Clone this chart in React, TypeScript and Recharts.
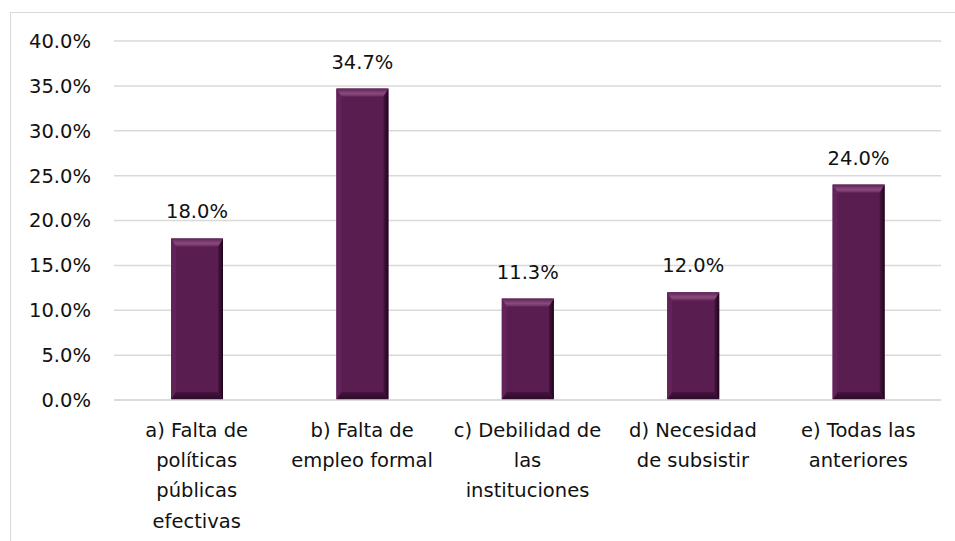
import React from "react";
import { BarChart, Bar, XAxis, YAxis, CartesianGrid, LabelList } from "recharts";

const categories = [
  "a) Falta de políticas públicas efectivas",
  "b) Falta de empleo formal",
  "c) Debilidad de las instituciones",
  "d) Necesidad de subsistir",
  "e) Todas las anteriores",
];
const tickLines = [
  ["a) Falta de", "políticas", "públicas", "efectivas"],
  ["b) Falta de", "empleo formal"],
  ["c) Debilidad de", "las", "instituciones"],
  ["d) Necesidad", "de subsistir"],
  ["e) Todas las", "anteriores"],
];
const values = [18.0, 34.7, 11.3, 12.0, 24.0];
const yTicks = [0, 5, 10, 15, 20, 25, 30, 35, 40];

const data = categories.map((c, i) => ({ name: c, idx: i, value: values[i] }));

const FONT = "'DejaVu Sans', sans-serif";
const FS = 19.5;

const BevelBar = (props: any) => {
  const { x, y, width, height } = props;
  if (!height || height <= 0) return null;
  const b = Math.min(8, height / 3);
  const s = 5;
  return (
    <g>
      <rect x={x} y={y} width={width} height={height} fill="#5a1d50" />
      <polygon
        points={`${x},${y} ${x + s},${y + b} ${x + s},${y + height - b} ${x},${y + height}`}
        fill="#62235a"
      />
      <polygon
        points={`${x + width},${y} ${x + width - s},${y + b} ${x + width - s},${y + height - b} ${x + width},${y + height}`}
        fill="url(#rightBevel)"
      />
      <polygon
        points={`${x},${y} ${x + width},${y} ${x + width - s},${y + b} ${x + s},${y + b}`}
        fill="url(#topBevel)"
      />
      <polygon
        points={`${x},${y + height} ${x + width},${y + height} ${x + width - s},${y + height - b} ${x + s},${y + height - b}`}
        fill="url(#bottomBevel)"
      />
    </g>
  );
};

const XTick = (props: any) => {
  const { x, y, payload } = props;
  const lines = tickLines[payload.index] || [String(payload.value)];
  return (
    <text x={x} y={y} textAnchor="middle" fontFamily={FONT} fontSize={FS} fill="#111">
      {lines.map((l, i) => (
        <tspan key={i} x={x} y={y + 29 + i * 30.2}>
          {l}
        </tspan>
      ))}
    </text>
  );
};

export default function App() {
  return (
    <div style={{ position: "absolute", left: 0, top: 0, width: 955, height: 541, overflow: "hidden", background: "#fff" }}>
      <div
        style={{
          position: "absolute",
          left: 10,
          top: 12,
          width: 1000,
          height: 600,
          border: "1.5px solid #d9d9d9",
          boxSizing: "border-box",
        }}
      />
      <div style={{ position: "absolute", left: 0, top: 0 }}>
        <BarChart
          width={955}
          height={541}
          data={data}
          margin={{ top: 41, right: 14, bottom: 11, left: 14 }}
          barCategoryGap="0%"
        >
          <defs>
            <linearGradient id="topBevel" x1="0" y1="0" x2="0" y2="1">
              <stop offset="0%" stopColor="#5e2254" />
              <stop offset="60%" stopColor="#8a4a7e" />
              <stop offset="100%" stopColor="#6a2c60" />
            </linearGradient>
            <linearGradient id="bottomBevel" x1="0" y1="0" x2="0" y2="1">
              <stop offset="0%" stopColor="#451340" />
              <stop offset="100%" stopColor="#2a0a25" />
            </linearGradient>
            <linearGradient id="rightBevel" x1="0" y1="0" x2="1" y2="0">
              <stop offset="0%" stopColor="#4a1542" />
              <stop offset="100%" stopColor="#1e051a" />
            </linearGradient>
          </defs>
          <CartesianGrid vertical={false} stroke="#d9d9d9" strokeWidth={1.5} />
          <XAxis
            dataKey="name"
            axisLine={{ stroke: "#d9d9d9", strokeWidth: 1.5 }}
            tickLine={false}
            tick={<XTick />}
            interval={0}
            height={130}
          />
          <YAxis
            domain={[0, 40]}
            ticks={yTicks}
            axisLine={false}
            tickLine={false}
            tickSize={0}
            tickMargin={23}
            width={100}
            tickFormatter={(v: number) => v.toFixed(1) + "%"}
            tick={{ fontFamily: FONT, fontSize: FS, fill: "#111" }}
          />
          <Bar dataKey="value" barSize={52} shape={<BevelBar />} isAnimationActive={false}>
            <LabelList
              dataKey="value"
              position="top"
              offset={20}
              formatter={(v: number) => v.toFixed(1) + "%"}
              style={{ fontFamily: FONT, fontSize: FS, fill: "#111" }}
            />
          </Bar>
        </BarChart>
      </div>
    </div>
  );
}
